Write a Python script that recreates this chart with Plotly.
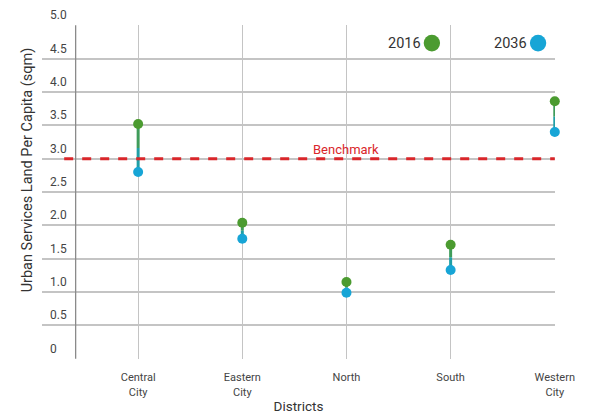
import plotly.graph_objects as go

# Données
districts = ['Central<br>City', 'Eastern<br>City', 'North', 'South', 'Western<br>City']
val_2016 = [3.52, 2.04, 1.15, 1.71, 3.86]
val_2036 = [2.80, 1.80, 0.99, 1.33, 3.40]
benchmark = 3.0
y_ticks = [0, 0.5, 1.0, 1.5, 2.0, 2.5, 3.0, 3.5, 4.0, 4.5, 5.0]
y_ticktext = ['0', '0.5', '1.0', '1.5', '2.0', '2.5', '3.0', '3.5', '4.0', '4.5', '5.0']

green = '#4b9b30'
blue = '#17a5d6'
teal = '#1f9fa6'
x_pos = list(range(len(districts)))

fig = go.Figure()

# Traits reliant 2016 et 2036 (moitié haute verte, moitié basse bleu-vert)
for i in x_pos:
    mid = (val_2016[i] + val_2036[i]) / 2
    fig.add_trace(go.Scatter(x=[i, i], y=[val_2016[i], mid], mode='lines',
                             line=dict(color='#3f9c5a', width=3), showlegend=False, hoverinfo='skip'))
    fig.add_trace(go.Scatter(x=[i, i], y=[mid, val_2036[i]], mode='lines',
                             line=dict(color=teal, width=3), showlegend=False, hoverinfo='skip'))

# Ligne de référence
fig.add_trace(go.Scatter(x=[-0.71, 4], y=[benchmark, benchmark], mode='lines',
                         line=dict(color='#d9262a', width=3, dash='dash'), showlegend=False))

fig.add_trace(go.Scatter(x=x_pos, y=val_2016, mode='markers', name='2016',
                         marker=dict(color=green, size=10), showlegend=False, cliponaxis=False))
fig.add_trace(go.Scatter(x=x_pos, y=val_2036, mode='markers', name='2036',
                         marker=dict(color=blue, size=10), showlegend=False, cliponaxis=False))

# Ligne verticale gauche
fig.add_shape(type='line', x0=-0.6, x1=-0.6, y0=0, y1=5, xref='x', yref='y',
              line=dict(color='#8a8a8a', width=1.3))

fig.add_annotation(x=2.0, y=benchmark, text='Benchmark', showarrow=False, yanchor='bottom',
                   font=dict(color='#d9262a', size=13))

# Étiquettes de l'axe Y au-dessus des lignes
for v, t in zip(y_ticks, y_ticktext):
    fig.add_annotation(x=0.012, y=v, xref='paper', yref='y', text=t, showarrow=False,
                       xanchor='left', yanchor='bottom', yshift=1,
                       font=dict(size=12, color='#444'))

# Légende manuelle
for label, color, px_x in [('2016', green, 0.760), ('2036', blue, 0.967)]:
    fig.add_annotation(x=px_x - 0.018, y=0.946, xref='paper', yref='paper', text=label,
                       showarrow=False, xanchor='right', yanchor='middle',
                       font=dict(size=14.5, color='#333'))
    fig.add_shape(type='circle', xref='paper', yref='paper',
                  x0=px_x - 0.016, x1=px_x + 0.016, y0=0.946 - 0.025, y1=0.946 + 0.025,
                  fillcolor=color, line=dict(width=0))

fig.add_annotation(x=-0.047, y=0.566, xref='paper', yref='paper', text='Urban Services Land Per Capita (sqm)',
                   textangle=-90, showarrow=False, font=dict(size=14.5, color='#333'))

# La page ajoute 8 px de marge : la figure est réduite d'autant
fig.update_layout(
    width=581, height=408,
    margin=dict(l=34, r=34, t=17, b=57),
    plot_bgcolor='white', paper_bgcolor='white',
    font=dict(family='Roboto', color='#444'),
    xaxis=dict(range=[-0.923, 4.002], tickvals=x_pos, ticktext=districts, showgrid=True,
               gridcolor='#c4c4c4', gridwidth=1, zeroline=False, showline=False, automargin=False,
               tickfont=dict(size=11, color='#444'), ticks='outside', ticklen=8, tickcolor='white',
               title=dict(text='Districts', font=dict(size=13.5, color='#333'), standoff=4)),
    yaxis=dict(range=[-0.004, 5.004], tickvals=y_ticks, showticklabels=False, showgrid=True,
               gridcolor='#c4c4c4', gridwidth=1.5, zeroline=False, showline=False, automargin=False),
)

fig.write_html("out.html")
